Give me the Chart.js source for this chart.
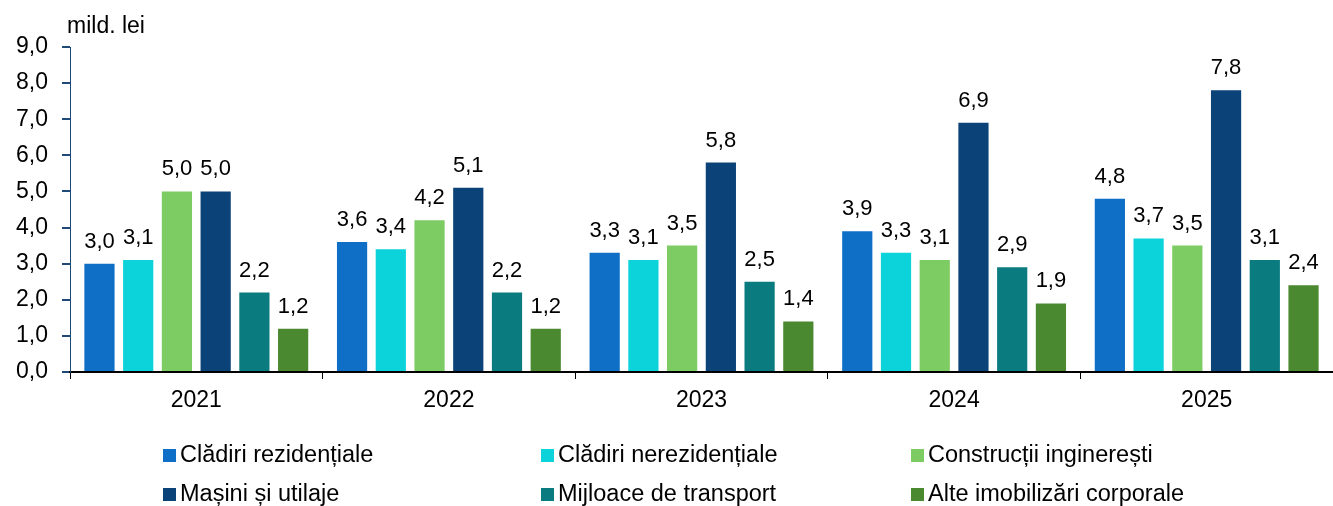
<!DOCTYPE html>
<html>
<head>
<meta charset="utf-8">
<script src="https://cdn.jsdelivr.net/npm/chart.js@4/dist/chart.umd.min.js"></script>
<style>
  html, body { margin: 0; padding: 0; background: #fff; }
  #wrap { position: relative; width: 1333px; height: 506px; }
  #legend { position: absolute; left: 0; top: 0; width: 1333px; height: 506px; pointer-events: none;
    font-family: 'Liberation Sans', Arial, sans-serif; font-size: 23.5px; color: #000; }
  .item { position: absolute; white-space: nowrap; line-height: 24px; }
  .item span.box { display: inline-block; width: 13px; height: 13px; margin-right: 4px; vertical-align: 0px; }
</style>
</head>
<body>
<div id="wrap">
  <canvas id="barChart" width="1333" height="506"></canvas>
  <div id="legend"></div>
</div>
<script>
var years = ['2021', '2022', '2023', '2024', '2025'];
var yTicks = [0, 1, 2, 3, 4, 5, 6, 7, 8, 9];

var cladiriRez = [3.0, 3.6, 3.3, 3.9, 4.8];
var cladiriNerez = [3.1, 3.4, 3.1, 3.3, 3.7];
var constructii = [5.0, 4.2, 3.5, 3.1, 3.5];
var masini = [5.0, 5.1, 5.8, 6.9, 7.8];
var mijloace = [2.2, 2.2, 2.5, 2.9, 3.1];
var alte = [1.2, 1.2, 1.4, 1.9, 2.4];

var seriesNames = ['Clădiri rezidențiale', 'Clădiri nerezidențiale', 'Construcții inginerești',
  'Mașini și utilaje', 'Mijloace de transport', 'Alte imobilizări corporale'];
var seriesData = [cladiriRez, cladiriNerez, constructii, masini, mijloace, alte];
var seriesColors = ['#0F6FC6', '#0CD2DA', '#7CCB63', '#0B4378', '#0A7B7F', '#4A8930'];

function fmt(v) { return v.toFixed(1).replace('.', ','); }

Chart.defaults.font.family = "'Liberation Sans', Arial, sans-serif";
Chart.defaults.font.size = 22;
Chart.defaults.color = '#000';

var datasets = [];
for (var i = 0; i < seriesData.length; i++) {
  datasets.push({
    label: seriesNames[i],
    data: seriesData[i],
    backgroundColor: seriesColors[i],
    borderWidth: 0,
    categoryPercentage: 0.92,
    barPercentage: 0.78
  });
}

// values above the bars + unit label
var valueLabels = {
  id: 'valueLabels',
  afterDatasetsDraw: function(chart) {
    var ctx = chart.ctx;
    ctx.save();
    ctx.font = "22px 'Liberation Sans', Arial, sans-serif";
    ctx.fillStyle = '#000';
    ctx.textAlign = 'center';
    ctx.textBaseline = 'alphabetic';
    chart.data.datasets.forEach(function(ds, di) {
      var meta = chart.getDatasetMeta(di);
      meta.data.forEach(function(bar, j) {
        ctx.fillText(fmt(ds.data[j]), bar.x, bar.y - 16);
      });
    });
    ctx.font = "23px 'Liberation Sans', Arial, sans-serif";
    ctx.textAlign = 'left';
    ctx.fillText('mild. lei', chart.chartArea.left - 3, 33);
    ctx.restore();
  }
};

var ctx2 = document.getElementById('barChart').getContext('2d');
new Chart(ctx2, {
  type: 'bar',
  data: { labels: years, datasets: datasets },
  options: {
    responsive: false,
    animation: false,
    layout: { padding: { top: 47, right: 0, bottom: 84, left: 0 } },
    plugins: { legend: { display: false }, tooltip: { enabled: false } },
    scales: {
      x: {
        offset: true,
        grid: { offset: true, drawOnChartArea: false, drawTicks: true, tickLength: 7, color: '#000', lineWidth: 1 },
        border: { color: '#000', width: 2 },
        ticks: { padding: 8, font: { size: 23 } },
        afterFit: function(scale) { scale.height = 50; }
      },
      y: {
        min: 0,
        max: 9,
        afterBuildTicks: function(scale) { scale.ticks = yTicks.map(function(v) { return { value: v }; }); },
        ticks: { padding: 14, font: { size: 23 }, callback: function(v) { return fmt(v); } },
        grid: { drawOnChartArea: false, drawTicks: true, tickLength: 8, color: '#1F4A78', lineWidth: 2 },
        border: { color: '#1F4A78', width: 1 },
        afterFit: function(scale) { scale.width = 70; }
      }
    }
  },
  plugins: [valueLabels]
});

// legend, 3 columns x 2 rows
var legendX = [163, 541, 911];
var legendY = [442, 481];
var lg = document.getElementById('legend');
for (var k = 0; k < seriesNames.length; k++) {
  var d = document.createElement('div');
  d.className = 'item';
  d.style.left = legendX[k % 3] + 'px';
  d.style.top = legendY[Math.floor(k / 3)] + 'px';
  d.innerHTML = '<span class="box" style="background:' + seriesColors[k] + '"></span>' + seriesNames[k];
  lg.appendChild(d);
}
</script>
</body>
</html>
